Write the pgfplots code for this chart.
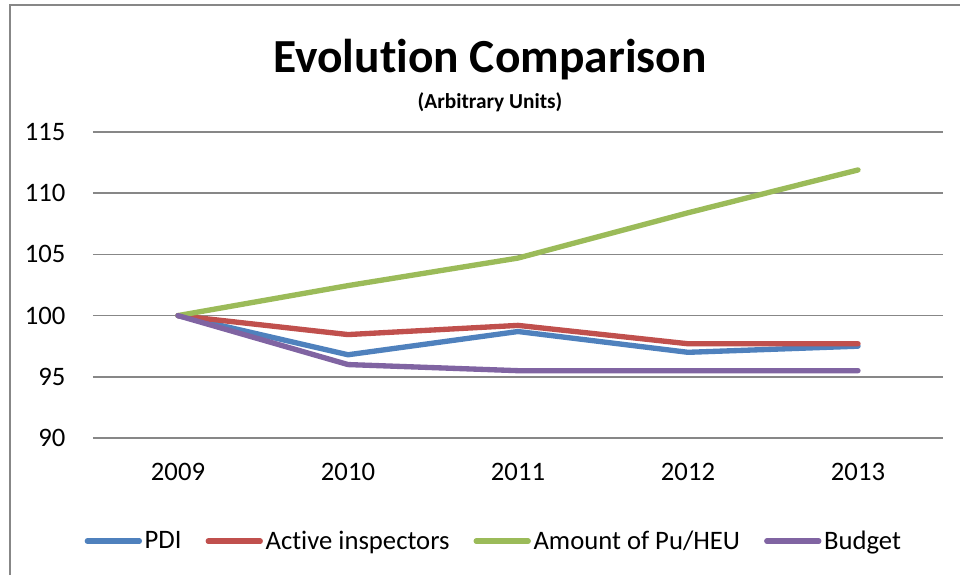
\documentclass[border=0pt]{standalone}
\usepackage{pgfplots}
\pgfplotsset{compat=1.18}
\usepackage{fontspec}
\setmainfont{Carlito}[Ligatures=NoCommon]
\definecolor{cblue}{HTML}{4F81BD}
\definecolor{cred}{HTML}{C0504D}
\definecolor{cgreen}{HTML}{9BBB59}
\definecolor{cpurple}{HTML}{8064A2}
\definecolor{gridgray}{HTML}{878787}
\begin{document}
\begin{tikzpicture}[x=0.75pt,y=0.75pt]
\useasboundingbox (0,0) rectangle (960,575);
\draw[color=gridgray, line width=1.5pt] (10,0) -- (10,570) -- (960,570);
\node[anchor=base, inner sep=0pt, font=\bfseries\fontsize{35.6}{40}\selectfont] at (490,502) {Evolution Comparison};
\node[anchor=base, inner sep=0pt, font=\bfseries\fontsize{16}{18}\selectfont] at (490,466) {(Arbitrary Units)};
\begin{axis}[
  at={(69.75pt,102.75pt)}, anchor=south west,
  scale only axis, width=637.5pt, height=229.5pt,
  xmin=-0.5, xmax=4.5, ymin=90, ymax=115,
  ytick={90,95,...,115},
  xtick={0,1,2,3,4},
  xticklabels={2009,2010,2011,2012,2013},
  axis line style={draw=none},
  tick style={draw=none},
  ymajorgrids,
  grid style={gridgray, line width=1.2pt},
  /pgf/number format/assume math mode=true,
  ticklabel style={font=\fontsize{20}{24}\selectfont},
  yticklabel style={inner sep=0pt, anchor=east, xshift=-20.5pt},
  xticklabel style={inner sep=0pt, anchor=base, yshift=-32pt},
  clip=false,
  legend columns=4,
  legend style={draw=none, at={(0.472,-0.337)}, anchor=center,
    font=\fontsize{20}{24}\selectfont,
    cells={anchor=west},
    /tikz/every even column/.append style={column sep=16pt}},
  legend image code/.code={\draw[#1, line width=4pt, line cap=round] (0pt,0pt) -- (39pt,0pt);},
  every axis plot/.append style={line width=4pt, line cap=round, line join=round},
]
\addplot[cblue] coordinates {(0,100) (1,96.8) (2,98.7) (3,97.0) (4,97.5)};
\addlegendentry{PDI}
\addplot[cred] coordinates {(0,100) (1,98.45) (2,99.2) (3,97.7) (4,97.7)};
\addlegendentry{Active inspectors}
\addplot[cgreen] coordinates {(0,100) (1,102.45) (2,104.7) (3,108.4) (4,111.9)};
\addlegendentry{Amount of Pu/HEU}
\addplot[cpurple] coordinates {(0,100) (1,96.0) (2,95.5) (3,95.5) (4,95.5)};
\addlegendentry{Budget}
\end{axis}
\end{tikzpicture}
\end{document}
